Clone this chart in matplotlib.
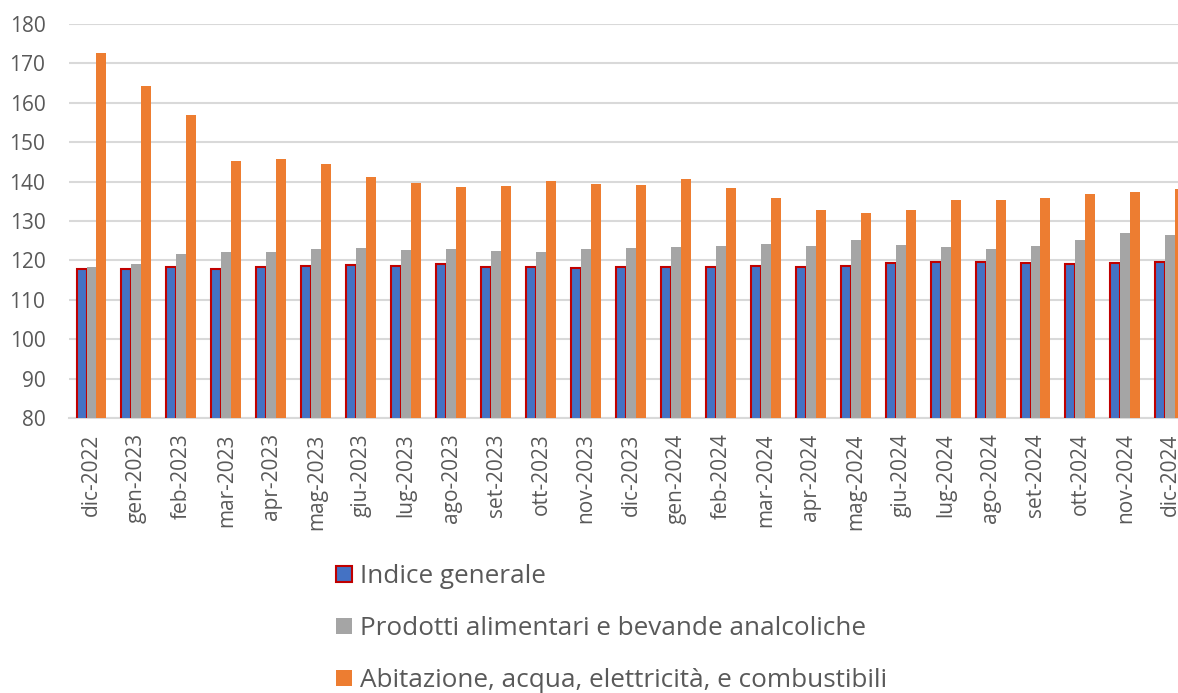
import matplotlib
matplotlib.use("Agg")
import matplotlib.pyplot as plt
from matplotlib.patches import Patch
import numpy as np

months = ["dic-2022", "gen-2023", "feb-2023", "mar-2023", "apr-2023", "mag-2023",
          "giu-2023", "lug-2023", "ago-2023", "set-2023", "ott-2023", "nov-2023",
          "dic-2023", "gen-2024", "feb-2024", "mar-2024", "apr-2024", "mag-2024",
          "giu-2024", "lug-2024", "ago-2024", "set-2024", "ott-2024", "nov-2024",
          "dic-2024"]

indice_generale = [117.7, 117.9, 118.4, 117.8, 118.4, 118.5, 118.9, 118.7, 119.2,
                   118.4, 118.4, 118.0, 118.3, 118.4, 118.3, 118.7, 118.4, 118.7,
                   119.3, 119.7, 119.7, 119.3, 119.2, 119.3, 119.5]
alimentari = [118.4, 119.1, 121.5, 122.1, 122.1, 123.0, 123.1, 122.6, 123.0, 122.5,
              122.2, 122.9, 123.2, 123.3, 123.7, 124.2, 123.7, 125.1, 123.8, 123.4,
              123.0, 123.7, 125.2, 127.0, 126.4]
abitazione = [172.7, 164.3, 156.9, 145.1, 145.7, 144.5, 141.2, 139.6, 138.6, 138.9,
              140.2, 139.4, 139.1, 140.7, 138.4, 135.8, 132.8, 132.1, 132.7, 135.3,
              135.3, 135.9, 136.8, 137.4, 138.2]

series_labels = ["Indice generale",
                 "Prodotti alimentari e bevande analcoliche",
                 "Abitazione, acqua, elettricità, e combustibili"]

BLUE = "#4472c4"
GREY = "#a5a5a5"
ORANGE = "#ed7d31"
RED = "#c00000"
TEXT = "#595959"

plt.rcParams["font.family"] = ["Open Sans", "DejaVu Sans"]

fig = plt.figure(figsize=(11.78, 6.93), dpi=100)
ax = fig.add_axes([0.0586, 0.3968, 0.9414, 0.5686])

x = np.arange(len(months))
w = 0.222
ax.bar(x - w, indice_generale, w, color=BLUE, edgecolor=RED, linewidth=1.5, zorder=3)
ax.bar(x, alimentari, w, color=GREY, zorder=3)
ax.bar(x + w, abitazione, w, color=ORANGE, zorder=3)

ax.set_ylim(80, 180)
ax.set_yticks(range(80, 181, 10))
ax.set_xlim(-0.5, 24.17)
ax.set_xticks(x)
ax.set_xticklabels(months, rotation=90)
ax.yaxis.grid(True, color="#d9d9d9", linewidth=1.5, zorder=0)
ax.set_axisbelow(True)
for s in ["left", "right", "top"]:
    ax.spines[s].set_visible(False)
ax.spines["bottom"].set_color("#d9d9d9")
ax.spines["bottom"].set_linewidth(1.5)
ax.tick_params(axis="both", length=0, labelsize=15, labelcolor=TEXT)
ax.tick_params(axis="y", pad=17)
ax.tick_params(axis="x", pad=11)

handles = [Patch(facecolor=BLUE, edgecolor=RED, linewidth=1.5),
           Patch(facecolor=GREY),
           Patch(facecolor=ORANGE)]
fig.legend(handles, series_labels, loc="upper left", bbox_to_anchor=(0.2855, 0.186),
           frameon=False, fontsize=18.8, labelcolor=TEXT, handlelength=0.6,
           handleheight=0.6, handletextpad=0.3, labelspacing=1.04,
           borderpad=0, borderaxespad=0,
           bbox_transform=fig.transFigure)

fig.savefig("out.png", dpi=100)
